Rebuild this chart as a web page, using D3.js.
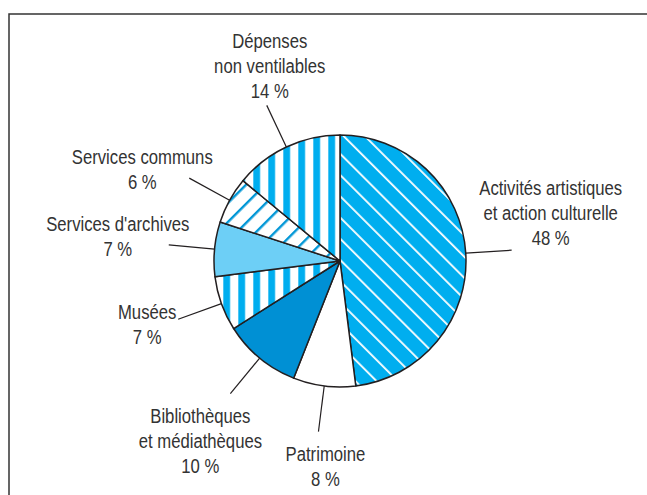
<!DOCTYPE html>
<html>
<head>
<meta charset="utf-8">
<script src="https://cdn.jsdelivr.net/npm/d3@7"></script>
<style>
  body { margin: 0; background: #fff; }
  text { font-family: "Liberation Sans", Arial, sans-serif; font-size: 20px; fill: #333; }
</style>
</head>
<body>
<figure id="pie" style="margin:0"></figure>
<script>
// slices clockwise from 12 o'clock
const categories = [
  "Activités artistiques|et action culturelle",
  "Patrimoine",
  "Bibliothèques|et médiathèques",
  "Musées",
  "Services d'archives",
  "Services communs",
  "Dépenses|non ventilables"
];
const values = [48, 8, 10, 7, 7, 6, 14];
const valueLabels = ["48 %", "8 %", "10 %", "7 %", "7 %", "6 %", "14 %"];

const width = 647, height = 495;
const cx = 340, cy = 261, radius = 126, leaderLen = 46;
const narrow = 0.835; // condensed look

// fill per slice (pattern ids or colours)
const fills = ["url(#diagBlue)", "#ffffff", "#0090d4", "url(#vstripes)", "#6dcff6", "url(#diagWhite)", "url(#vstripes)"];
// label offsets from leader end: [dx, first baseline dy]
const labelOffsets = [[39, -55], [7, 29.5], [-30, 29.5], [-31, 0], [-51, -14], [-47, -14], [3, -57]];

const svg = d3.select("figure#pie")
  .append("svg")
  .attr("width", width)
  .attr("height", height);

// frame (only top & left visible)
svg.append("path")
  .attr("d", "M9,495 V14 H647")
  .attr("fill", "none")
  .attr("stroke", "#333")
  .attr("stroke-width", 1.5);

const defs = svg.append("defs");

let p = defs.append("pattern")
  .attr("id", "diagBlue")
  .attr("patternUnits", "userSpaceOnUse")
  .attr("width", 15).attr("height", 15)
  .attr("patternTransform", "rotate(-45)");
p.append("rect").attr("width", 15).attr("height", 15).attr("fill", "#00aeef");
p.append("rect").attr("x", 0).attr("width", 1.8).attr("height", 15).attr("fill", "#fff");

p = defs.append("pattern")
  .attr("id", "diagWhite")
  .attr("patternUnits", "userSpaceOnUse")
  .attr("width", 13.5).attr("height", 13.5)
  .attr("patternTransform", "rotate(45)");
p.append("rect").attr("width", 13.5).attr("height", 13.5).attr("fill", "#fff");
p.append("rect").attr("x", 0).attr("width", 2.4).attr("height", 13.5).attr("fill", "#0096d6");

p = defs.append("pattern")
  .attr("id", "vstripes")
  .attr("patternUnits", "userSpaceOnUse")
  .attr("x", 3.3)
  .attr("width", 15).attr("height", 15);
p.append("rect").attr("width", 15).attr("height", 15).attr("fill", "#fff");
p.append("rect").attr("width", 6.8).attr("height", 15).attr("fill", "#00aeef");

const g = svg.append("g").attr("transform", "translate(" + cx + "," + cy + ")");

const pie = d3.pie().sort(null).value(d => d)(values);
const arc = d3.arc().innerRadius(0).outerRadius(radius);

g.selectAll("path.slice")
  .data(pie)
  .enter()
  .append("path")
  .attr("class", "slice")
  .attr("d", arc)
  .attr("fill", (d, i) => fills[i])
  .attr("stroke", "#231f20")
  .attr("stroke-width", 1.5)
  .attr("stroke-linejoin", "round");

const pt = (a, r) => [Math.sin(a) * r, -Math.cos(a) * r];

pie.forEach((d, i) => {
  const mid = (d.startAngle + d.endAngle) / 2;
  const a = pt(mid, radius);
  const b = pt(mid, radius + leaderLen);
  g.append("line")
    .attr("x1", a[0]).attr("y1", a[1])
    .attr("x2", b[0]).attr("y2", b[1])
    .attr("stroke", "#231f20")
    .attr("stroke-width", 1.2);

  const lines = categories[i].split("|").concat([valueLabels[i]]);
  const t = g.append("text")
    .attr("text-anchor", "middle")
    .attr("transform", "translate(" + (b[0] + labelOffsets[i][0]) + "," + (b[1] + labelOffsets[i][1]) + ") scale(" + narrow + ",1)");
  lines.forEach((s, k) => {
    t.append("tspan")
      .attr("x", 0)
      .attr("dy", k === 0 ? 0 : 25)
      .text(s);
  });
});
</script>
</body>
</html>
